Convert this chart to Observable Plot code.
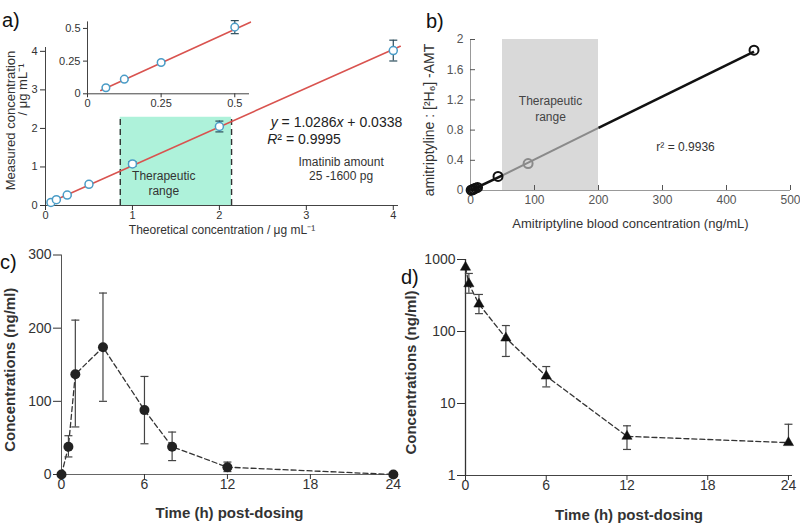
<!DOCTYPE html>
<html><head><meta charset="utf-8">
<script src="https://cdn.jsdelivr.net/npm/d3@7"></script>
<script src="https://cdn.jsdelivr.net/npm/@observablehq/plot@0.6"></script>
<style>
body{margin:0;background:#fff;}
#root{position:relative;width:800px;height:528px;overflow:hidden;font-family:'Liberation Sans',Arial,sans-serif;background:#fff;}
.lbl{position:absolute;font-size:20px;line-height:20px;color:#111;font-family:'Liberation Sans',Arial,sans-serif;}
</style></head><body><div id="root"></div>
<script>
// ---------- Panel a (calibration, imatinib) ----------
const aX = [0.0625, 0.125, 0.25, 0.5, 1, 2, 4];
const aY = [0.08, 0.15, 0.27, 0.55, 1.08, 2.05, 4.02];
const aErr = [0.02, 0.02, 0.03, 0.05, 0.06, 0.14, 0.27];
const aFitX = [0.03, 4.08];
const aFitY = [0.06, 4.13];
const aRange = [0.86, 2.14];
const aRangeTop = 2.29;
const aTicks = [0, 1, 2, 3, 4];
// inset
const insX = [0.0625, 0.125, 0.25, 0.5];
const insY = [0.046, 0.112, 0.24, 0.51];
const insErr = [0.008, 0.008, 0.01, 0.05];
const insFitX = [0.045, 0.553];
const insFitY = [0.025, 0.548];
const insTicks = [0, 0.25, 0.5];

// ---------- Panel b (amitriptyline) ----------
const bX = [1, 3, 5, 8, 11, 43, 90, 443];
const bY = [0.004, 0.01, 0.02, 0.03, 0.04, 0.187, 0.356, 1.858];
const bLineX = [0, 50, 200, 443];
const bLineY = [0, 0.2, 0.83, 1.84];
const bRange = [50, 200];
const bRangeTop = 2;
const bXTicks = [0, 100, 200, 300, 400, 500];
const bYTicks = [0, 0.4, 0.8, 1.2, 1.6, 2];

// ---------- Panel c (linear PK) ----------
const cT = [0, 0.5, 1, 3, 6, 8, 12, 24];
const cC = [0, 38, 137, 174, 88, 38, 10, 0];
const cLo = [0, 24, 65, 100, 42, 19, 4, 0];
const cHi = [0, 53, 211, 248, 134, 58, 17, 0];
const cXTicks = [0, 6, 12, 18, 24];
const cYTicks = [0, 100, 200, 300];

// ---------- Panel d (log PK) ----------
const dT = [0, 0.25, 1, 3, 6, 12, 24];
const dC = [780, 460, 240, 81, 24, 3.5, 2.86];
const dLo = [780, 340, 177, 45, 17, 2.3, 2.7];
const dHi = [780, 640, 327, 121, 32.6, 4.9, 5.15];
const dXTicks = [0, 6, 12, 18, 24];
const dYTicks = [1, 10, 100, 1000];

// ---------- helpers ----------
const root = document.getElementById("root");
const FONT = "'Liberation Sans', Arial, sans-serif";
const baseStyle = {background: "transparent", fontFamily: FONT, overflow: "visible"};
function place(svg, left, top) {
  svg.style.position = "absolute";
  svg.style.left = left + "px";
  svg.style.top = top + "px";
  root.appendChild(svg);
}
function letter(txt, left, top) {
  const d = document.createElement("div");
  d.className = "lbl"; d.textContent = txt;
  d.style.left = left + "px"; d.style.top = top + "px";
  root.appendChild(d);
}
const cap = {draw(ctx, size) { const w = Math.sqrt(size / Math.PI); ctx.moveTo(-w, 0); ctx.lineTo(w, 0); }};
function errMarks(data, stroke, r, sw) {
  const d = data.filter(p => p.hi > p.lo);
  return [
    Plot.ruleX(d, {x: "x", y1: "lo", y2: "hi", stroke, strokeWidth: sw}),
    Plot.dot(d, {x: "x", y: "lo", symbol: cap, r, stroke, strokeWidth: sw}),
    Plot.dot(d, {x: "x", y: "hi", symbol: cap, r, stroke, strokeWidth: sw})
  ];
}
function richText(svg, match, parts) {
  for (const t of svg.querySelectorAll("text")) {
    if (t.textContent === match) {
      while (t.firstChild) t.removeChild(t.firstChild);
      for (const [s, italic] of parts) {
        const ts = document.createElementNS("http://www.w3.org/2000/svg", "tspan");
        ts.textContent = s;
        if (italic) ts.setAttribute("font-style", "italic");
        t.appendChild(ts);
      }
    }
  }
}
const xLabel = (s, dy, extra = {}) => Plot.text([s], {text: d => d, frameAnchor: "bottom", lineAnchor: "middle", textAnchor: "middle", dy, ...extra});
const yLabel = (s, dx, dy, extra = {}) => Plot.text([s], {text: d => d, frameAnchor: "left", lineAnchor: "middle", textAnchor: "middle", rotate: -90, dx, dy, ...extra});

// ---------- build a ----------
const aPts = aX.map((x, i) => ({x, y: aY[i], lo: aY[i] - aErr[i], hi: aY[i] + aErr[i]}));
const aFit = aFitX.map((x, i) => ({x, y: aFitY[i]}));
const aMain = Plot.plot({
  width: 410, height: 250, marginLeft: 45, marginRight: 12, marginTop: 47, marginBottom: 45,
  style: baseStyle,
  x: {domain: [0, 4.06]}, y: {domain: [0, 4.1]},
  marks: [
    Plot.rect([aRange], {x1: d => d[0], x2: d => d[1], y1: 0, y2: aRangeTop, fill: "#aef2da"}),
    Plot.ruleX(aRange, {y1: 0, y2: aRangeTop, stroke: "#333", strokeWidth: 1.4, strokeDasharray: "6,4"}),
    Plot.ruleY([0], {stroke: "#444"}),
    Plot.ruleX([0], {stroke: "#444"}),
    Plot.axisX({ticks: aTicks, tickSize: 5, tickPadding: 1, fontSize: 11, color: "#333", label: null, tickFormat: String}),
    Plot.axisY({ticks: aTicks, tickSize: 5, tickPadding: 3, fontSize: 11, color: "#333", label: null, tickFormat: String}),
    Plot.line(aFit, {x: "x", y: "y", stroke: "#d9534f", strokeWidth: 1.6}),
    ...errMarks(aPts, "#2b4d5c", 4, 1.2),
    Plot.dot(aPts, {x: "x", y: "y", r: 4, fill: "white", stroke: "#4a9cc7", strokeWidth: 1.5}),
    Plot.text(["Therapeutic\nrange"], {text: d => d, x: 1.36, y: 0.6, fontSize: 12, fill: "#333", lineHeight: 1.25}),
    Plot.text(["y = 1.0286x + 0.0338"], {text: d => d, x: 2.59, y: 2.16, textAnchor: "start", fontSize: 14, fill: "#222"}),
    Plot.text(["R² = 0.9995"], {text: d => d, x: 2.55, y: 1.71, textAnchor: "start", fontSize: 14, fill: "#222"}),
    Plot.text(["Imatinib amount\n25 -1600 pg"], {text: d => d, x: 3.4, y: 0.95, fontSize: 12, fill: "#333", lineHeight: 1.15}),
    xLabel("Theoretical concentration / μg mL⁻¹", 25, {fontSize: 12, fill: "#333"}),
    yLabel("Measured concentration", -35, -6, {fontSize: 13, fill: "#333"}),
    yLabel("/ μg mL⁻¹", -23, -37, {fontSize: 13, fill: "#333"})
  ]
});
richText(aMain, "y = 1.0286x + 0.0338", [["y", true], [" = 1.0286", false], ["x", true], [" + 0.0338", false]]);
richText(aMain, "R² = 0.9995", [["R", true], ["² = 0.9995", false]]);
place(aMain, 0, 0);

const insPts = insX.map((x, i) => ({x, y: insY[i], lo: insY[i] - insErr[i], hi: insY[i] + insErr[i]}));
const insFit = insFitX.map((x, i) => ({x, y: insFitY[i]}));
const aInset = Plot.plot({
  width: 210, height: 115, marginLeft: 37, marginRight: 11, marginTop: 21.4, marginBottom: 21.7,
  style: baseStyle,
  x: {domain: [0, 0.55]}, y: {domain: [0, 0.55]},
  marks: [
    Plot.ruleY([0], {stroke: "#444"}),
    Plot.ruleX([0], {stroke: "#444"}),
    Plot.axisX({ticks: insTicks, tickSize: 4, tickPadding: 1, fontSize: 11, color: "#333", label: null, tickFormat: String}),
    Plot.axisY({ticks: insTicks, tickSize: 4, tickPadding: 3, fontSize: 11, color: "#333", label: null, tickFormat: String}),
    Plot.line(insFit, {x: "x", y: "y", stroke: "#d9534f", strokeWidth: 1.6}),
    ...errMarks(insPts, "#2b4d5c", 4, 1.2),
    Plot.dot(insPts, {x: "x", y: "y", r: 3.8, fill: "white", stroke: "#4a9cc7", strokeWidth: 1.5})
  ]
});
place(aInset, 50, 0);

// ---------- build b ----------
const bPts = bX.map((x, i) => ({x, y: bY[i]}));
const inB = x => x >= bRange[0] && x <= bRange[1];
const bSegs = bLineX.slice(1).map((x, i) => ({x1: bLineX[i], y1: bLineY[i], x2: x, y2: bLineY[i + 1]}));
const bPlot = Plot.plot({
  width: 400, height: 250, marginLeft: 70, marginRight: 10, marginTop: 39, marginBottom: 60,
  style: baseStyle,
  x: {domain: [0, 500]}, y: {domain: [0, 2]},
  marks: [
    Plot.rect([bRange], {x1: d => d[0], x2: d => d[1], y1: 0, y2: bRangeTop, fill: "#d9d9d9"}),
    Plot.ruleY([0], {stroke: "#999"}),
    Plot.ruleX([0], {stroke: "#999"}),
    Plot.axisX({ticks: bXTicks, tickSize: -5, tickPadding: 10, fontSize: 12, color: "#555", label: null, tickFormat: String}),
    Plot.axisY({ticks: bYTicks, tickSize: -5, tickPadding: 12, fontSize: 12, color: "#555", label: null, tickFormat: String}),
    Plot.link(bSegs, {x1: "x1", y1: "y1", x2: "x2", y2: "y2",
      stroke: d => inB(d.x1) && inB(d.x2) ? "#8a8a8a" : "#111",
      strokeWidth: d => inB(d.x1) && inB(d.x2) ? 2 : 2.6}),
    Plot.dot(bPts, {x: "x", y: "y", r: 4.5, fill: "none", stroke: d => inB(d.x) ? "#8a8a8a" : "#111", strokeWidth: 2}),
    Plot.text(["Therapeutic\nrange"], {text: d => d, x: 125, y: 1.1, fontSize: 12, fill: "#444", lineHeight: 1.35}),
    Plot.text(["r² = 0.9936"], {text: d => d, x: 336, y: 0.58, fontSize: 12, fill: "#333"}),
    xLabel("Amitriptyline blood concentration (ng/mL)", 33, {fontSize: 13, fill: "#333"}),
    yLabel("amitriptyline : [²H₆] -AMT", -41, 5, {fontSize: 14, fill: "#333"})
  ]
});
place(bPlot, 400, 0);

// ---------- build c ----------
const cPts = cT.map((x, i) => ({x, y: cC[i], lo: cLo[i], hi: cHi[i]}));
const cPlot = Plot.plot({
  width: 400, height: 288, marginLeft: 61, marginRight: 3, marginTop: 14.5, marginBottom: 54,
  style: baseStyle,
  x: {domain: [0, 24.3]}, y: {domain: [0, 300]},
  marks: [
    Plot.ruleY([0], {stroke: "#666"}),
    Plot.ruleX([0], {stroke: "#555"}),
    Plot.axisX({ticks: cXTicks, tickSize: 5, tickPadding: 0, fontSize: 14, color: "#333", label: null, tickFormat: String}),
    Plot.axisY({ticks: cYTicks, tickSize: 8, tickPadding: 2, fontSize: 14, color: "#333", label: null, tickFormat: String}),
    Plot.line(cPts, {x: "x", y: "y", stroke: "#333", strokeWidth: 1.3, strokeDasharray: "5,3"}),
    ...errMarks(cPts, "#444", 4, 1.2),
    Plot.dot(cPts, {x: "x", y: "y", r: 5, fill: "#222"}),
    xLabel("Time (h) post-dosing", 39, {fontSize: 15, fontWeight: "bold", fill: "#333"}),
    yLabel("Concentrations (ng/ml)", -51, 5, {fontSize: 15, fontWeight: "bold", fill: "#333"})
  ]
});
place(cPlot, 0, 240);

// ---------- build d ----------
const dPts = dT.map((x, i) => ({x, y: dC[i], lo: dLo[i], hi: dHi[i]}));
const dPlot = Plot.plot({
  width: 400, height: 288, marginLeft: 65, marginRight: 8, marginTop: 19, marginBottom: 53,
  style: baseStyle,
  x: {domain: [0, 24.3]}, y: {type: "log", domain: [1, 1000]},
  marks: [
    Plot.ruleY([1], {stroke: "#444"}),
    Plot.ruleX([0], {stroke: "#333", strokeWidth: 1.3}),
    Plot.axisX({ticks: dXTicks, tickSize: 5, tickPadding: 0, fontSize: 14, color: "#333", label: null, tickFormat: String}),
    Plot.axisY({ticks: dYTicks, tickSize: 8, tickPadding: 2, fontSize: 14, color: "#333", label: null, tickFormat: String}),
    Plot.line(dPts, {x: "x", y: "y", stroke: "#333", strokeWidth: 1.3, strokeDasharray: "5,3"}),
    ...errMarks(dPts, "#444", 4, 1.2),
    Plot.dot(dPts, {x: "x", y: "y", r: 3.8, symbol: "triangle", fill: "#111", stroke: "#111", strokeWidth: 0.5}),
    xLabel("Time (h) post-dosing", 40, {fontSize: 15, fontWeight: "bold", fill: "#333"}),
    yLabel("Concentrations (ng/ml)", -54, 5, {fontSize: 15, fontWeight: "bold", fill: "#333"})
  ]
});
place(dPlot, 400, 240);

// ---------- panel letters ----------
letter("a)", 2, 10);
letter("b)", 426, 11);
letter("c)", 0, 252);
letter("d)", 401, 267);
</script>
</body></html>
